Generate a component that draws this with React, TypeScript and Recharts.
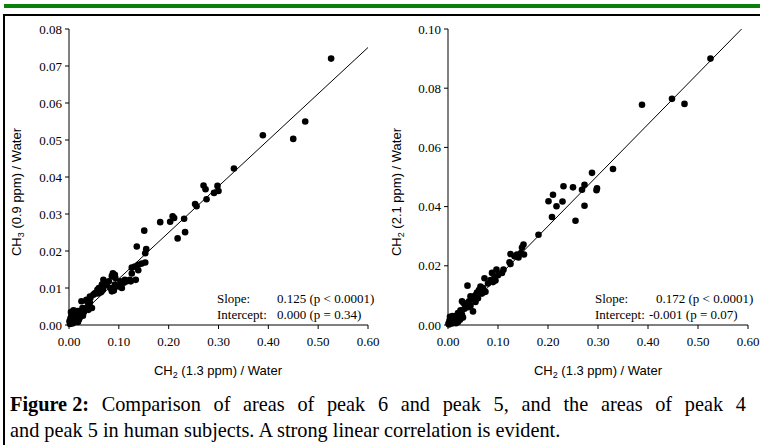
import React from "react";
import { ScatterChart, Scatter, XAxis, YAxis, ReferenceLine } from "recharts";

// peak 6 (CH3, 0.9 ppm) vs peak 5 (CH2, 1.3 ppm), both relative to water
const ch3Points = [
  { x: 0.526, y: 0.072 }, { x: 0.474, y: 0.055 }, { x: 0.45, y: 0.0503 }, { x: 0.389, y: 0.0513 },
  { x: 0.331, y: 0.0423 }, { x: 0.27, y: 0.0377 }, { x: 0.274, y: 0.0367 }, { x: 0.298, y: 0.0376 },
  { x: 0.3, y: 0.0362 }, { x: 0.291, y: 0.0357 }, { x: 0.276, y: 0.034 }, { x: 0.253, y: 0.0327 },
  { x: 0.256, y: 0.0321 }, { x: 0.183, y: 0.0278 }, { x: 0.203, y: 0.0279 }, { x: 0.208, y: 0.0294 },
  { x: 0.211, y: 0.0289 }, { x: 0.231, y: 0.0287 }, { x: 0.233, y: 0.0251 }, { x: 0.218, y: 0.0234 },
  { x: 0.151, y: 0.0255 }, { x: 0.136, y: 0.0212 }, { x: 0.155, y: 0.0205 }, { x: 0.153, y: 0.0194 },
  { x: 0.126, y: 0.0155 }, { x: 0.132, y: 0.0158 }, { x: 0.139, y: 0.0163 }, { x: 0.146, y: 0.0166 },
  { x: 0.153, y: 0.0169 }, { x: 0.139, y: 0.0148 }, { x: 0.126, y: 0.0139 }, { x: 0.112, y: 0.0122 },
  { x: 0.122, y: 0.0122 }, { x: 0.134, y: 0.0122 }, { x: 0.116, y: 0.0118 }, { x: 0.124, y: 0.0118 },
  { x: 0.092, y: 0.0136 }, { x: 0.088, y: 0.014 }, { x: 0.09, y: 0.0132 }, { x: 0.093, y: 0.0127 },
  { x: 0.086, y: 0.0132 }, { x: 0.08, y: 0.0118 }, { x: 0.073, y: 0.0114 }, { x: 0.069, y: 0.0122 },
  { x: 0.076, y: 0.0114 }, { x: 0.062, y: 0.01 }, { x: 0.086, y: 0.0091 }, { x: 0.09, y: 0.0093 },
  { x: 0.083, y: 0.01 }, { x: 0.092, y: 0.0109 }, { x: 0.099, y: 0.0104 }, { x: 0.106, y: 0.01 },
  { x: 0.103, y: 0.0118 }, { x: 0.11, y: 0.0114 }, { x: 0.066, y: 0.0109 }, { x: 0.06, y: 0.01 },
  { x: 0.057, y: 0.0095 }, { x: 0.053, y: 0.0086 }, { x: 0.049, y: 0.0082 }, { x: 0.052, y: 0.0086 },
  { x: 0.043, y: 0.0073 }, { x: 0.042, y: 0.0077 }, { x: 0.036, y: 0.0064 }, { x: 0.07, y: 0.0105 },
  { x: 0.075, y: 0.0108 }, { x: 0.065, y: 0.009 }, { x: 0.068, y: 0.0095 }, { x: 0.058, y: 0.0085 },
  { x: 0.063, y: 0.0088 }, { x: 0.035, y: 0.0068 }, { x: 0.025, y: 0.0064 }, { x: 0.039, y: 0.0055 },
  { x: 0.042, y: 0.006 }, { x: 0.027, y: 0.0046 }, { x: 0.039, y: 0.0041 }, { x: 0.046, y: 0.0046 },
  { x: 0.033, y: 0.0046 }, { x: 0.022, y: 0.0021 }, { x: 0.015, y: 0.0028 }, { x: 0.03, y: 0.0035 },
  { x: 0.028, y: 0.0025 }, { x: 0.02, y: 0.003 }, { x: 0.018, y: 0.0038 }, { x: 0.002, y: 0.0003 },
  { x: 0.004, y: 0.0008 }, { x: 0.006, y: 0.0012 }, { x: 0.003, y: 0.0018 }, { x: 0.008, y: 0.0005 },
  { x: 0.01, y: 0.0015 }, { x: 0.012, y: 0.0022 }, { x: 0.005, y: 0.0025 }, { x: 0.007, y: 0.0032 },
  { x: 0.014, y: 0.001 }, { x: 0.016, y: 0.0018 }, { x: 0.011, y: 0.003 }, { x: 0.009, y: 0.004 },
  { x: 0.013, y: 0.0038 }, { x: 0.018, y: 0.0008 }, { x: 0.02, y: 0.0015 }, { x: 0.001, y: 0.001 },
  { x: 0.004, y: 0.0035 }, { x: 0.024, y: 0.0028 }, { x: 0.017, y: 0.0024 }, { x: 0.006, y: 0.0005 },
];

// peak 4 (CH2, 2.1 ppm) vs peak 5 (CH2, 1.3 ppm)
const ch2Points = [
  { x: 0.525, y: 0.09 }, { x: 0.448, y: 0.0764 }, { x: 0.473, y: 0.0747 }, { x: 0.388, y: 0.0744 },
  { x: 0.33, y: 0.0527 }, { x: 0.288, y: 0.0514 }, { x: 0.273, y: 0.0474 }, { x: 0.268, y: 0.0457 },
  { x: 0.25, y: 0.0465 }, { x: 0.231, y: 0.0469 }, { x: 0.21, y: 0.044 }, { x: 0.298, y: 0.0462 },
  { x: 0.297, y: 0.0455 }, { x: 0.201, y: 0.0418 }, { x: 0.217, y: 0.0401 }, { x: 0.229, y: 0.0417 },
  { x: 0.208, y: 0.0365 }, { x: 0.255, y: 0.0352 }, { x: 0.273, y: 0.0403 }, { x: 0.181, y: 0.0305 },
  { x: 0.151, y: 0.0272 }, { x: 0.148, y: 0.0262 }, { x: 0.146, y: 0.0243 }, { x: 0.138, y: 0.0238 },
  { x: 0.125, y: 0.024 }, { x: 0.133, y: 0.0232 }, { x: 0.152, y: 0.0238 }, { x: 0.141, y: 0.0228 },
  { x: 0.123, y: 0.0212 }, { x: 0.125, y: 0.0206 }, { x: 0.111, y: 0.0187 }, { x: 0.097, y: 0.0187 },
  { x: 0.088, y: 0.0176 }, { x: 0.108, y: 0.0176 }, { x: 0.1, y: 0.0168 }, { x: 0.093, y: 0.016 },
  { x: 0.085, y: 0.0152 }, { x: 0.073, y: 0.0158 }, { x: 0.095, y: 0.015 }, { x: 0.09, y: 0.0145 },
  { x: 0.08, y: 0.014 }, { x: 0.07, y: 0.0125 }, { x: 0.065, y: 0.013 }, { x: 0.062, y: 0.0118 },
  { x: 0.075, y: 0.0112 }, { x: 0.058, y: 0.011 }, { x: 0.068, y: 0.0106 }, { x: 0.055, y: 0.01 },
  { x: 0.05, y: 0.0095 }, { x: 0.045, y: 0.0097 }, { x: 0.039, y: 0.0133 }, { x: 0.048, y: 0.0088 },
  { x: 0.042, y: 0.008 }, { x: 0.028, y: 0.008 }, { x: 0.036, y: 0.0072 }, { x: 0.031, y: 0.0074 },
  { x: 0.05, y: 0.0046 }, { x: 0.04, y: 0.006 }, { x: 0.033, y: 0.0055 }, { x: 0.025, y: 0.005 },
  { x: 0.045, y: 0.0065 }, { x: 0.055, y: 0.0078 }, { x: 0.06, y: 0.009 }, { x: 0.02, y: 0.004 },
  { x: 0.015, y: 0.003 }, { x: 0.022, y: 0.0025 }, { x: 0.01, y: 0.002 }, { x: 0.005, y: 0.001 },
  { x: 0.002, y: 0.0002 }, { x: 0.008, y: 0.0005 }, { x: 0.012, y: 0.0012 }, { x: 0.018, y: 0.0018 },
  { x: 0.014, y: 0.0025 }, { x: 0.006, y: 0.0022 }, { x: 0.003, y: 0.0015 }, { x: 0.025, y: 0.003 },
  { x: 0.02, y: 0.001 }, { x: 0.016, y: 0.0006 }, { x: 0.009, y: 0.003 }, { x: 0.028, y: 0.0035 },
  { x: 0.011, y: 0.0008 }, { x: 0.001, y: 0.0005 }, { x: 0.004, y: 0.0028 }, { x: 0.024, y: 0.0018 },
  { x: 0.03, y: 0.0025 }, { x: 0.018, y: 0.0032 },
];

const xTicks = [0, 0.1, 0.2, 0.3, 0.4, 0.5, 0.6];
const ch3Ticks = [0, 0.01, 0.02, 0.03, 0.04, 0.05, 0.06, 0.07, 0.08];
const ch2Ticks = [0, 0.02, 0.04, 0.06, 0.08, 0.1];

const ch3Fit = { slope: 0.125, intercept: 0.0, slopeP: "(p < 0.0001)", interceptP: "(p = 0.34)" };
const ch2Fit = { slope: 0.172, intercept: -0.001, slopeP: "(p < 0.0001)", interceptP: "(p = 0.07)" };

const captionLine1 = ["Comparison", "of", "areas", "of", "peak", "6", "and", "peak", "5,", "and", "the", "areas", "of", "peak", "4"];
const captionLine2 = "and peak 5 in human subjects. A strong linear correlation is evident.";

const serif = '"Liberation Serif", "Times New Roman", serif';
const sans = '"Liberation Sans", Arial, sans-serif';

const dot = (props: any) => <circle cx={props.cx} cy={props.cy} r={3.3} fill="#000" />;

function Panel({ data, ticks, fit, yAxisWidth }: any) {
  const yMax = ticks[ticks.length - 1];
  const x0 = Math.max(0, -fit.intercept / fit.slope);
  const x1 = Math.min(0.6, (yMax - fit.intercept) / fit.slope);
  return (
    <ScatterChart width={380} height={400} margin={{ top: 29, right: 12, bottom: 0, left: 0 }}>
      <XAxis
        type="number"
        dataKey="x"
        domain={[0, 0.6]}
        ticks={xTicks}
        tickFormatter={(v: number) => v.toFixed(2)}
        height={75}
        tickSize={4}
        tickMargin={8}
        stroke="#000"
        tick={{ fill: "#000", fontSize: 13, fontFamily: serif }}
      />
      <YAxis
        type="number"
        dataKey="y"
        domain={[0, yMax]}
        ticks={ticks}
        tickFormatter={(v: number) => v.toFixed(2)}
        width={yAxisWidth}
        tickSize={4}
        tickMargin={3}
        stroke="#000"
        tick={{ fill: "#000", fontSize: 13, fontFamily: serif }}
      />
      <ReferenceLine
        segment={[
          { x: x0, y: fit.intercept + fit.slope * x0 },
          { x: x1, y: fit.intercept + fit.slope * x1 },
        ]}
        stroke="#000"
        strokeWidth={1}
      />
      <Scatter data={data} fill="#000" shape={dot} isAnimationActive={false} />
    </ScatterChart>
  );
}

function Stats({ x, valueX, fit }: any) {
  return (
    <g fontFamily={serif} fontSize={13} fill="#000">
      <text x={x} y={303}>Slope:</text>
      <text x={valueX[0]} y={303}>{fit.slope.toFixed(3)} {fit.slopeP}</text>
      <text x={x} y={319}>Intercept:</text>
      <text x={valueX[1]} y={319}>{fit.intercept.toFixed(3)} {fit.interceptP}</text>
    </g>
  );
}

function Title({ x, y, rotate, lead, sub, rest }: any) {
  return (
    <text
      x={x}
      y={y}
      textAnchor="middle"
      fontFamily={sans}
      fontSize={13}
      fill="#000"
      transform={rotate ? `rotate(-90, ${x}, ${y})` : undefined}
    >
      {lead}
      <tspan fontSize={9} dy={3}>{sub}</tspan>
      <tspan dy={-3}>{rest}</tspan>
    </text>
  );
}

export default function App() {
  return (
    <div style={{ position: "absolute", left: 0, top: 0, width: 760, height: 445, background: "#fff", overflow: "hidden" }}>
      <div style={{ position: "absolute", left: 4, top: 4, width: 756, height: 4, background: "#0a800a" }} />
      <div style={{ position: "absolute", left: 3, top: 14, width: 757, height: 431, borderLeft: "2px solid #000", borderTop: "2px solid #000", boxSizing: "border-box" }} />
      <div style={{ position: "absolute", left: 0, top: 0 }}>
        <Panel data={ch3Points} ticks={ch3Ticks} fit={ch3Fit} yAxisWidth={69} />
      </div>
      <div style={{ position: "absolute", left: 380, top: 0 }}>
        <Panel data={ch2Points} ticks={ch2Ticks} fit={ch2Fit} yAxisWidth={68} />
      </div>
      <svg width={760} height={445} style={{ position: "absolute", left: 0, top: 0, pointerEvents: "none" }}>
        <Title x={21} y={192} rotate lead="CH" sub="3" rest=" (0.9 ppm) / Water" />
        <Title x={218} y={375} lead="CH" sub="2" rest=" (1.3 ppm) / Water" />
        <Title x={401} y={192} rotate lead="CH" sub="2" rest=" (2.1 ppm) / Water" />
        <Title x={598} y={375} lead="CH" sub="2" rest=" (1.3 ppm) / Water" />
        <Stats x={217} valueX={[277, 277]} fit={ch3Fit} />
        <Stats x={595} valueX={[656, 649]} fit={ch2Fit} />
      </svg>
      <div style={{ position: "absolute", left: 10, top: 391, width: 736, fontFamily: serif, fontSize: 20.3, lineHeight: "26px", color: "#000" }}>
        <div style={{ whiteSpace: "nowrap", display: "flex", justifyContent: "space-between" }}>
          <b>Figure 2:</b>
          {captionLine1.map((w, i) => <span key={i}>{w}</span>)}
        </div>
        <div>{captionLine2}</div>
      </div>
    </div>
  );
}
